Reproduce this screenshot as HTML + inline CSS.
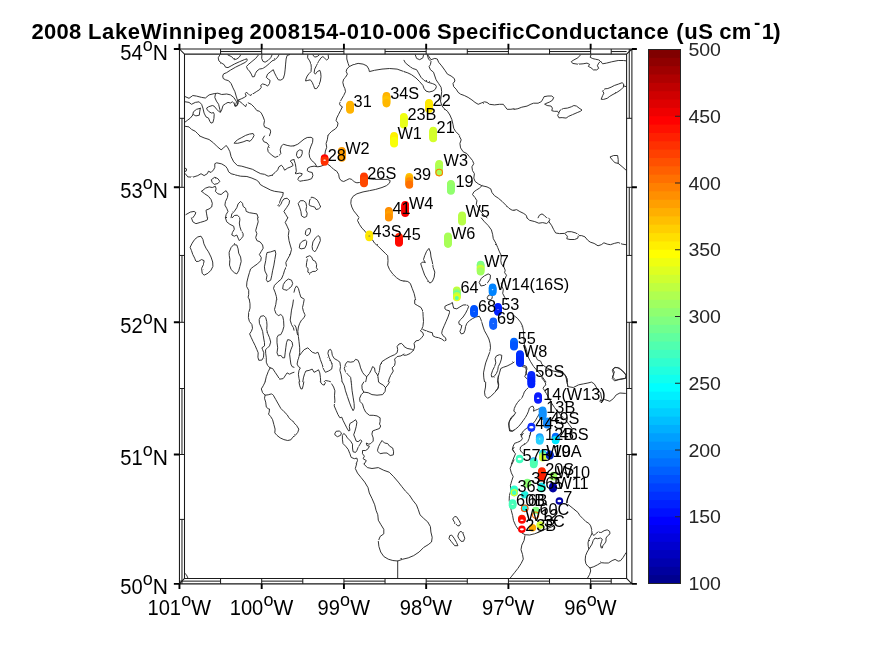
<!DOCTYPE html>
<html><head><meta charset="utf-8"><title>2008 LakeWinnipeg SpecificConductance</title>
<style>
html,body{margin:0;padding:0;background:#fff;}
svg{display:block;font-family:"Liberation Sans",Arial,Helvetica,sans-serif;}
.c{fill:none;stroke:#2a2a2a;stroke-width:0.95;stroke-linejoin:round;stroke-linecap:round;vector-effect:non-scaling-stroke}
</style></head><body>
<svg width="875" height="656" viewBox="0 0 875 656">
<rect width="875" height="656" fill="#fff"/>
<defs><filter id="rough" x="0" y="0" width="875" height="656" filterUnits="userSpaceOnUse"><feTurbulence type="fractalNoise" baseFrequency="0.35" numOctaves="2" seed="3" result="n"/><feDisplacementMap in="SourceGraphic" in2="n" scale="1.6" xChannelSelector="R" yChannelSelector="G"/></filter></defs>
<g id="coast" filter="url(#rough)">
<path class="c" d="M219.8 55.0 218.2 57.8 218.9 60.9 221.1 62.8 224.2 64.7 225.5 67.2 228.0 67.6 231.1 65.9 234.3 64.1 239.3 61.8 244.3 59.7 246.9 58.8 247.2 60.3 245.6 62.2 240.6 64.7 235.5 67.2 230.5 70.1 226.7 72.6 223.6 73.9 222.7 76.0 223.2 78.5 225.5 79.8 228.6 80.7 231.1 83.5 233.0 87.9 234.9 91.7 236.2 96.1 237.4 99.9 238.1 103.7 236.8 105.8 235.3 106.2 234.9 103.0
M185.3 96.7 189.0 98.3 192.8 95.5 196.6 96.1 201.6 97.4 205.4 98.0 209.1 94.9 214.2 93.6 217.9 93.2 221.7 94.5 226.7 94.0 230.5 94.9 233.7 97.4 236.2 101.1 237.4 104.3
M215.4 94.2 214.8 97.4 216.4 101.1 218.6 104.3 219.8 109.3 220.5 112.1 221.7 109.9 223.0 105.5 225.5 103.7 228.0 102.4 230.5 103.0 232.4 101.8 234.3 103.7 234.9 106.2 236.8 105.5 238.1 102.4 238.7 99.9
M238.7 99.9 241.8 98.6 244.3 97.4 246.2 96.1 245.3 93.6 246.2 92.3 248.1 93.6 250.0 95.5 252.5 94.2 256.3 91.7 259.4 89.8 261.3 87.3 260.7 85.4 262.6 83.9 265.7 84.8 267.6 86.1 269.5 83.5 270.1 80.4 268.2 79.1 266.3 77.3 267.6 74.1 270.7 71.6 273.3 69.7 274.5 72.9 276.4 76.6 278.3 79.8 280.8 80.1 283.3 78.5 284.6 74.1 285.2 69.1 285.6 64.1 286.1 59.0 287.1 55.5 289.6 54.6
M239.3 101.1 242.5 103.7 245.6 106.8 246.5 104.3 248.1 102.8 251.3 104.3 254.4 107.4 256.9 110.6 259.4 111.2 261.3 113.1 263.2 116.9 264.5 120.6 263.8 124.4 264.5 126.9 267.6 128.2 270.1 129.4 270.7 131.9 269.5 135.7
M228.0 55.0 231.8 56.8 234.3 59.7 236.8 59.0 239.3 57.1 240.6 55.0
M258.2 55.3 255.7 58.4 251.9 61.5 248.1 64.7 246.5 66.6 247.5 69.1 249.4 71.0 251.3 74.1 252.5 76.9 254.4 76.6 255.4 73.5 256.9 71.0 259.4 69.1 262.6 68.5 265.7 66.6 269.5 63.4 272.0 60.9 275.1 59.7 277.7 57.1 278.9 55.0
M261.9 55.0 261.7 58.4 262.9 61.3 265.1 62.2 268.2 60.3 270.7 57.8 272.0 55.0
M185.3 101.8 189.0 102.4 191.5 104.3 195.3 102.4 199.1 101.8 201.6 104.3 202.9 108.1 204.1 113.1 206.0 116.9 208.5 118.1 209.8 121.3 211.0 123.1 212.9 122.5 213.9 118.7 214.2 114.3 213.5 112.5 211.7 113.1 209.1 111.8 207.3 109.9 206.6 108.1 208.5 106.8 212.3 105.5 214.2 106.2 216.7 109.3 219.2 111.8 220.5 112.1
M200.3 108.3 196.6 109.3 193.4 111.8 192.8 115.0 190.3 118.1 187.8 120.0 185.3 121.9
M200.3 108.3 199.7 111.8 199.3 115.2 195.9 115.9 193.4 114.6 192.8 115.0
M185.3 126.3 189.0 126.9 191.5 129.4 195.3 131.3 197.8 133.8 199.7 135.7
M346.8 55.0 346.8 59.0 348.1 63.4 349.3 66.6 353.1 64.7 358.1 63.4 363.1 64.1 366.9 65.9 368.8 69.1 369.4 71.6 374.5 70.3 382.0 69.1 389.5 68.5 397.1 69.1 404.0 71.6
M349.3 66.6 346.8 69.1 346.2 71.6 347.4 74.1 345.5 77.3 343.7 79.1 342.8 82.3 343.7 86.1 344.9 88.6 345.5 91.7 343.7 95.5 341.1 99.9 339.5 103.7 340.3 105.5 342.4 106.8 340.5 110.6 338.6 114.3 336.7 118.1 336.1 120.6 338.0 123.1 337.4 126.3 335.5 128.8 331.7 131.3 329.2 133.8 327.9 135.7
M307.8 55.0 307.6 57.8 309.7 60.9 311.0 64.1 311.3 67.8 311.0 71.6 309.1 73.5 307.2 76.0 305.9 79.1 305.6 81.0 307.8 80.4 310.3 79.8 312.2 82.3 313.5 85.4 314.7 88.6 316.6 88.6 318.5 86.1 320.4 81.0 321.0 76.6 320.7 72.9 319.8 70.3 317.3 71.6 315.4 74.1 314.1 72.9 314.7 69.1 316.6 65.3 318.5 61.5 321.0 57.8 322.9 56.5 324.8 58.4 326.7 60.0 328.6 58.4 328.2 55.0
M312.9 55.0 314.7 57.1 317.3 56.5 319.1 55.0
M404.0 71.6 407.8 72.9 411.5 74.7 415.9 77.9 419.7 81.7 422.9 85.4 424.1 88.6 426.0 91.1 429.1 92.0 432.9 91.1 435.4 89.2 436.4 86.7 435.4 84.8 432.3 83.5 427.9 82.3 424.1 80.4 421.0 77.3 418.5 72.9 416.6 69.7 412.8 68.5 409.0 65.9 405.3 62.8 404.0 60.3
M427.3 55.0 428.5 59.0 431.0 61.5 430.4 64.7 429.1 66.6 430.4 69.7 433.5 72.2 434.8 76.0 436.1 79.8 438.6 83.5 441.1 87.3 441.7 91.7 441.1 96.7 440.5 101.1 441.7 105.5 444.2 108.7 447.4 111.2 449.9 115.0 451.8 119.4 453.0 124.4 453.7 128.2 455.5 131.3 459.3 135.1
M427.9 55.0 431.0 59.7 434.8 58.4 437.3 59.0 438.6 62.2 441.7 65.9 444.9 70.3 447.4 74.1 451.1 76.0 454.3 78.5 454.9 81.0 453.0 83.5 453.7 86.7 456.2 89.2 458.1 92.3 460.6 94.2 464.3 95.5 468.1 97.4 471.9 99.9 475.0 102.4 478.2 104.3 481.3 103.0 484.5 101.8 487.0 102.4 489.5 104.3 494.5 104.9 499.5 104.3 503.3 104.3 505.2 106.8 507.1 109.3 510.9 109.3 514.0 108.7
M415.3 55.0 416.6 58.4 419.7 59.7 422.9 57.8 423.5 55.0
M514.0 109.4 517.9 108.7 521.8 107.2 527.0 106.1 530.9 104.2 533.5 103.2 538.1 103.2 541.4 101.6 543.3 98.3 544.0 96.7 547.9 96.0 551.8 96.0 553.7 97.6 552.4 100.3 549.2 102.2 545.9 103.5 544.6 104.2 547.2 105.5 551.1 106.1 552.4 108.1 551.8 110.7 554.4 111.3 557.6 111.3 558.9 113.3 557.6 115.2 558.9 117.8 562.2 117.6 566.1 118.1 568.7 116.3 572.6 114.6 577.2 112.6 580.4 111.3 582.0 110.0 579.1 108.1 576.5 106.1 573.9 105.5 571.3 106.8 567.4 108.1 563.5 108.5 560.3 110.0 558.9 112.6
M580.4 55.0 577.8 57.9 573.9 59.9 571.3 61.6 572.6 63.4 577.8 64.2 583.1 63.8 587.0 63.1 589.6 64.4 588.3 66.4 590.9 67.7 593.5 69.9 596.7 69.9 598.7 68.3 597.4 65.7 598.7 63.1 600.6 61.2 598.7 59.9 595.4 59.2 592.8 58.6 590.2 57.3 590.9 55.0
M600.6 61.2 602.6 63.8 606.5 63.1 611.7 61.8 618.2 60.5 623.4 60.5 626.0 60.8
M601.3 98.9 602.6 95.7 603.9 93.1 602.6 91.1 604.5 88.9 607.8 88.5 611.1 87.2 614.3 85.5 618.2 84.2 622.1 82.7 623.7 84.0 623.4 87.2 620.8 89.8 616.9 92.4 613.0 94.4 609.8 96.3 607.2 98.3 603.9 99.3Z
M623.7 85.9 626.0 86.6
M234.3 142.9 237.4 139.8 241.8 137.5 245.6 135.4 249.4 134.1 253.1 133.5 254.1 135.4 252.5 138.5 250.0 141.3 246.9 140.4 243.1 141.9 238.1 143.2Z
M199.7 136.0 204.1 137.9 209.1 139.5 213.5 142.9 217.3 146.7 221.1 149.8 223.6 147.9 226.1 145.4 228.0 147.9 229.9 151.7 231.1 156.7 233.7 161.8 237.4 165.5 241.8 166.2 246.9 167.7 252.5 169.3 256.9 171.8 260.7 173.7 264.5 174.3 268.2 176.2 272.0 175.2 275.1 172.5 277.7 169.9 278.9 166.8 281.4 165.2 283.3 167.4 284.6 170.2 287.7 168.1 290.9 166.8 293.1 165.5 292.1 163.0 290.2 161.1 292.1 159.9 294.0 159.6
M185.3 173.7 187.8 176.9 192.8 177.2 197.8 175.6 201.0 173.7 204.1 175.6 207.3 173.7 208.5 171.2 211.0 172.5 213.5 169.9 214.8 167.4 214.8 163.7 216.7 162.8 221.7 163.9 225.5 166.2 227.4 168.7 228.6 171.8 231.1 173.7 235.5 175.0 240.6 176.2 246.9 176.5 251.9 178.1 256.3 180.0 258.8 181.9 260.1 184.4 263.2 186.3 267.0 188.2 270.7 190.1 274.5 191.3 278.9 191.9 283.3 192.6 282.7 195.7 280.8 198.9 279.5 202.6 277.7 205.1 278.9 206.4 280.8 204.5 282.1 201.4 283.9 198.9 287.1 198.2 289.6 200.7 289.0 203.9 286.5 207.7 283.9 211.4 285.8 214.6 287.7 217.7
M211.7 179.4 214.8 177.2 217.9 178.7 219.8 181.3 217.9 183.5 214.2 184.4 212.3 182.5Z
M201.6 191.3 205.4 188.2 209.1 186.9 212.3 187.5 215.4 186.3 216.1 188.8 215.4 191.3 217.9 193.8 221.1 194.5 224.2 191.9 226.1 190.7 228.0 193.8 227.4 197.6 225.5 201.4 224.9 205.1 226.7 208.3 228.0 211.4 226.1 214.6 225.5 217.7
M201.6 191.3 204.7 193.8 208.5 196.3 211.0 199.5 212.3 203.3 211.7 207.0 209.1 208.9 206.0 210.2 206.6 213.9 207.3 217.7
M231.1 217.7 231.8 213.9 234.3 211.4 236.8 207.7 238.1 203.9 240.6 201.4 242.5 203.3 243.1 206.4 245.6 208.3 246.2 211.4 249.4 212.7 253.1 213.3 256.9 213.9 258.2 217.7
M232.4 217.7 234.3 215.5 237.4 215.2 239.3 217.1
M185.9 214.6 190.3 212.1 194.1 211.4 195.9 212.7 194.7 215.2 192.8 217.7
M264.5 136.0 262.6 139.1 263.8 141.7 267.0 142.9 268.9 145.4 267.6 148.6 268.2 151.7 271.4 154.9 275.1 157.4 278.3 156.1 280.8 153.6 280.2 149.8 281.4 146.1 283.3 144.2 287.1 145.4 290.9 146.1 294.0 145.8
M185.0 168.1 186.5 168.9 186.3 170.9 185.0 171.5
M327.9 136.0 327.3 139.8 326.1 143.5 326.7 147.3 325.4 151.1 324.8 154.9 324.2 158.0 324.2 164.9 321.0 166.2 317.9 166.8 314.1 166.2 310.3 166.8 307.8 168.1 307.2 170.6 309.1 171.8 312.2 172.5 312.9 175.6 311.6 178.7 307.8 180.0 303.4 180.6 299.7 181.3 297.8 179.4 299.0 176.9 301.5 175.6 302.2 173.7 299.7 173.1 296.5 173.7 295.3 172.5
M327.9 164.3 331.1 166.8 333.6 169.3 336.7 171.2 338.6 174.3 339.3 178.1 341.1 180.6 343.7 181.5 346.8 180.0 349.3 178.7 351.8 179.4 354.3 181.9 356.9 182.8 359.4 182.5 364.4 180.6 368.2 178.7 374.5 179.4 382.0 179.4 387.7 179.4 390.2 180.6 389.5 183.1 386.4 185.7 382.0 187.5 375.7 189.4 369.4 190.7 363.1 191.9 356.9 193.8 353.1 196.3 351.2 199.5 350.8 203.3 351.8 207.0 353.7 210.8 356.2 213.9 358.7 217.1
M294.0 145.8 297.8 144.2 300.9 141.7 304.1 139.1 307.2 137.5 311.0 137.3 312.9 138.5 312.6 142.3 311.0 146.1 309.7 149.8 309.1 153.6 309.7 157.4 311.6 160.5 314.7 163.0 316.6 166.2
M294.0 159.9 295.3 163.7 295.9 167.4 296.3 171.2 295.5 173.7
M296.5 154.9 297.1 151.7 299.7 149.8 302.2 150.5 302.2 153.6 300.9 156.7 298.4 158.0Z
M298.4 203.3 300.3 200.7 303.4 200.7 305.9 202.6 306.6 206.4 305.9 210.2 307.2 213.3 306.6 216.5 304.1 217.5 301.5 215.8 300.9 211.4 299.7 207.7Z
M309.1 204.5 309.7 200.1 311.6 197.0 314.7 198.2 317.3 200.1 319.1 203.3 320.7 207.0 318.5 208.9 316.0 209.5 314.7 207.0 312.2 206.4 310.3 205.8Z
M459.3 136.0 461.2 139.8 459.9 143.5 460.6 147.9 463.1 151.7 466.9 153.6 469.4 156.7 472.5 160.5 473.8 163.7 471.9 166.8 472.5 170.6 474.4 173.7 473.8 178.1 475.0 181.3 478.2 183.8 481.9 185.7 487.0 186.9 490.7 188.8 492.0 192.6 494.5 195.7 498.3 198.2 502.1 201.4 505.8 205.1 509.0 208.3 512.1 210.2 514.0 210.2
M481.9 185.7 479.4 188.2 476.3 190.1 473.8 191.9 472.5 194.5 475.0 197.6 476.9 200.7 476.3 204.5 478.2 207.7 480.7 211.4 484.5 215.8 487.0 217.7
M514.0 210.3 516.6 209.6 519.9 211.6 523.8 213.5 526.4 215.5 527.0 217.8
M538.1 217.8 539.4 215.2 542.0 213.9 544.6 215.7 546.6 217.8
M610.4 156.8 613.7 155.5 617.6 155.5 618.2 159.5 618.2 163.4 615.0 162.7 612.4 160.1Z
M618.2 163.4 622.1 166.6 626.0 170.1
M207.6 218.0 207.3 219.9 204.7 221.1 200.3 222.4 195.9 223.7 192.8 221.8 191.5 218.0
M190.3 246.9 192.2 243.1 194.7 239.4 197.8 236.9 201.0 236.2 202.9 239.4 203.9 243.8 206.0 248.2 208.5 251.9 211.0 257.0 212.7 262.0 212.9 266.4 211.0 270.2 207.9 273.3 204.1 275.2 202.2 273.3 201.6 268.3 203.5 264.5 204.1 260.7 201.6 259.5 198.5 261.4 195.9 261.4 194.7 258.2 192.8 254.5 191.5 250.7Z
M225.5 218.0 226.7 221.8 229.9 224.3 233.7 226.2 234.3 229.3 232.4 232.5 231.8 235.0 234.3 236.2 236.8 235.0 238.1 238.1 239.3 240.6 241.2 238.7 243.1 236.2 243.1 233.7 241.2 230.6 239.9 226.8 239.3 223.0 239.9 219.9 239.6 218.0
M229.3 251.9 231.1 247.5 233.7 244.7 236.8 245.0 238.1 248.8 238.7 253.2 240.6 257.0 241.2 261.4 239.9 266.4 238.7 270.8 236.8 273.9 234.3 272.7 231.1 269.5 229.5 265.1 229.9 259.5 229.3 255.7Z
M257.5 218.0 258.2 221.8 256.9 226.2 255.7 230.6 256.9 233.7 255.7 237.5 256.9 240.6 260.1 241.9 262.6 245.0 263.2 248.2 261.3 251.3 259.4 254.5 261.3 257.6 260.7 260.7 257.5 263.9 253.8 266.4 250.6 268.9 249.4 272.7 248.1 277.1 246.9 282.1 246.6 286.5 248.7 290.3 248.7 294.7 248.1 297.2 249.4 299.7
M264.5 266.4 265.7 260.7 266.3 255.7 267.0 252.6 270.7 251.9 275.1 250.4 275.8 253.8 274.8 259.5 273.9 265.1 272.6 270.8 271.7 275.8 270.7 280.2 267.6 281.9 266.3 279.6 267.0 275.2 265.1 271.4Z
M287.7 218.0 285.2 222.4 287.1 226.2 289.0 230.6 288.3 235.6 289.0 240.6 290.2 245.0 291.5 249.4 290.2 254.5 287.7 258.9 285.8 262.6 286.5 266.4 284.6 270.2 283.3 274.6 281.4 279.0 277.7 282.1 274.5 285.3 273.5 288.4 275.1 292.2 276.4 296.6 276.8 299.7
M282.7 288.4 283.3 284.6 285.2 281.5 288.3 279.0 291.5 280.2 292.7 283.4 291.5 286.5 289.0 288.4 287.1 290.3 284.6 289.7Z
M358.7 218.0 357.5 220.5 359.4 224.3 361.9 228.1 365.0 231.2 366.9 233.7 369.4 236.9 372.6 240.0 374.5 243.1 378.2 246.3 382.0 250.1 385.8 253.8 387.7 255.7 388.0 260.7 387.7 265.1 389.5 269.5 392.7 273.9 396.5 277.7 400.2 280.2 404.0 281.2
M305.3 233.7 305.9 230.6 307.8 228.7 310.3 228.7 310.6 231.2 309.3 234.3 307.2 235.6Z
M299.3 247.5 300.0 243.8 302.2 241.3 305.3 240.0 306.8 241.3 306.3 245.0 304.7 248.2 301.5 248.8Z
M312.2 246.3 312.9 241.9 315.4 238.1 317.9 235.6 319.8 236.9 320.4 240.6 318.5 245.0 316.6 249.4 314.7 251.9 312.9 250.1Z
M306.6 257.0 309.7 255.7 311.6 257.0 312.9 260.1 315.4 261.4 316.6 264.5 316.4 267.7 317.6 269.5 315.4 271.4 312.9 271.4 309.7 273.3 307.8 272.1 308.1 268.9 306.3 266.4 306.6 262.6 307.2 260.1Z
M294.0 292.2 295.0 288.4 296.5 285.9 298.4 288.4 299.7 293.4 300.9 297.2 304.1 299.1
M481.3 218.0 484.5 221.8 488.2 225.5 491.4 229.9 492.6 234.3 493.3 238.7 495.8 243.1 497.7 247.5 499.5 251.9 501.4 255.7 500.8 260.7 501.4 263.9 503.9 267.0 505.2 270.2 504.6 272.7 506.5 275.2 505.2 278.3 503.3 280.9 501.4 283.4 502.1 286.5 503.3 289.7 502.7 293.4 504.6 297.2 506.5 299.7
M404.0 280.9 407.8 281.5 410.3 283.4 412.2 288.4 414.1 293.4 415.3 298.5 415.6 299.7
M421.0 263.3 422.9 262.0 425.4 262.6 423.5 259.5 424.7 255.7 426.6 251.3 428.9 248.4 430.4 251.9 431.0 257.0 432.3 262.0 433.2 267.7 434.8 272.1 434.2 277.1 432.3 281.5 429.8 283.1 427.3 279.6 424.7 275.2 422.9 270.2 421.6 266.4Z
M479.4 282.1 481.3 278.3 484.5 275.8 488.2 273.9 490.5 275.2 490.1 279.0 487.6 282.7 484.5 285.3 481.3 285.9Z
M527.0 218.0 529.6 220.3 534.8 221.6 538.8 223.2 542.7 222.6 546.6 223.5 548.9 221.6 551.8 225.8 553.7 229.7 555.7 233.0 559.6 233.6 564.8 233.4 567.4 231.7 571.3 231.7 575.9 233.0 578.5 234.9 577.8 238.2 574.6 239.5 570.0 239.5 566.8 238.8 567.4 236.2 565.5 234.3
M578.5 235.6 581.7 235.6 585.0 236.9 587.6 240.1 590.2 242.1 594.1 243.4 598.0 245.8 601.3 244.7 603.9 242.8 607.2 244.1 610.4 244.7 614.3 243.4 618.2 242.5 622.1 244.1 626.0 244.7
M548.9 221.6 549.8 219.3 548.5 218.0
M249.4 300.0 250.0 303.8 250.0 308.2 248.7 312.6 248.4 317.6 249.4 321.4 251.9 324.5 252.5 328.3 251.3 331.4 249.6 333.9 251.3 337.7 253.1 341.5 255.0 345.3 256.9 349.7 258.2 352.8 257.9 357.2 258.8 360.3 261.9 360.1 263.5 357.2 263.8 352.8 262.6 349.7 261.9 347.8 264.5 345.9 264.5 342.7 263.8 339.0 263.2 335.2 262.6 331.4 261.3 327.7 259.4 323.3 259.2 319.5 260.7 316.3 263.8 315.7 265.7 317.6 266.7 321.4 267.0 325.1 266.7 329.5 267.6 333.3 269.5 337.7 270.7 342.1 269.5 345.9 267.0 348.4 265.5 349.7 265.7 353.4 266.3 357.8 266.3 362.2 267.6 365.4 270.1 367.9
M270.1 367.9 268.2 371.7 266.3 376.7 265.1 381.7
M270.1 367.9 272.6 368.5 275.1 372.3 277.7 376.1 279.5 379.2 283.3 378.6 285.8 374.8 287.1 372.9 289.6 374.2 292.1 372.9 294.0 372.3
M276.4 300.0 275.8 304.4 274.5 309.4 275.8 313.2 278.3 315.7 280.8 314.5 282.7 316.3 283.6 320.7 283.9 326.4 282.7 330.8 280.8 334.6 278.3 335.2 277.0 337.7 277.0 342.7 277.7 347.8 277.0 352.8 278.3 355.9 280.8 355.3 282.7 357.8 284.6 357.8 285.2 352.8 285.8 347.8 286.5 342.7 287.7 339.6 290.2 340.2 292.1 342.1 292.7 345.3 290.9 349.7 289.6 354.1 290.2 359.1 290.9 364.1 292.1 366.6 294.0 367.3
M293.4 300.0 292.7 305.0 291.5 310.1 290.9 315.1 290.2 320.1 291.5 324.5 293.4 327.7 294.0 330.2
M304.1 300.0 303.4 303.8 302.5 307.5 303.4 311.3 305.1 315.1 304.1 317.6 301.5 320.1 299.7 323.3 298.4 327.0 297.8 331.4 298.4 336.5 299.0 341.5 299.7 347.8 299.7 352.8 299.0 356.6 297.8 360.3 297.1 364.1 298.4 366.6 300.3 367.9 299.0 370.4 298.4 374.2 299.0 378.6 299.7 381.7
M294.6 325.1 295.9 327.0 296.8 331.4 297.5 334.6
M299.7 355.3 301.5 352.8 304.1 349.7 307.8 347.8 309.7 349.7 312.2 352.2 315.4 353.4 317.9 352.2 319.1 355.3 320.4 359.7 322.3 364.7 323.5 369.1 325.4 372.3 328.6 371.0 331.7 369.1 332.3 365.4 331.1 361.6 329.2 357.8 327.9 353.4 328.6 350.3 330.5 349.3 331.7 351.5 332.3 355.3 334.2 358.5 337.4 360.3 339.9 362.2 340.5 366.6 339.9 370.4 341.1 374.8 341.8 379.2 342.0 381.7
M302.8 381.7 303.4 377.9 304.7 373.5 305.9 371.0 309.1 370.4 312.2 369.1 314.1 372.3 316.6 371.0 318.5 369.8 319.8 372.9 320.4 377.3 320.7 381.7
M324.2 381.7 325.4 380.5 328.6 381.1 330.5 381.7
M351.2 381.7 350.6 377.3 348.1 374.8 345.5 371.7 344.3 368.5 345.5 364.1 347.4 361.6 350.6 362.2 353.7 361.6 355.6 359.3 358.1 360.3 359.6 364.1 360.6 367.9 362.5 372.3 364.4 374.8 366.7 376.7 369.4 373.5 371.3 369.8 372.6 366.6 374.5 367.9 375.1 371.7 377.0 374.2 378.0 376.7 378.5 381.7
M366.7 376.7 366.3 379.2 365.7 381.7
M378.0 375.4 379.5 370.4 380.1 365.4 382.0 361.6 385.8 359.1 390.2 356.6 394.6 354.7 397.1 352.8 397.7 349.7 397.1 346.5 399.0 344.0 401.5 343.4 404.0 345.9
M404.0 354.1 400.9 355.9 397.1 356.6 394.6 359.1 395.2 362.2 394.6 365.4 392.1 367.9 393.3 371.0 391.4 374.2 389.5 377.9 388.3 381.7
M414.7 300.0 414.7 303.8 417.8 305.7 421.0 307.5 422.9 311.3 423.1 316.3 423.5 321.4 422.9 326.4 421.6 329.5 420.3 330.8 422.9 332.7 423.5 335.2 421.6 337.7 419.1 340.2 415.9 340.9 414.1 343.4 414.7 347.1 413.4 350.3 410.3 353.4 406.5 355.1 404.0 355.3
M404.0 346.5 407.1 348.4 411.5 349.3 413.4 350.3
M422.9 329.5 426.0 330.8 429.8 332.1 432.3 332.7 432.9 335.8 435.4 337.1 438.6 337.7 441.7 339.0 444.2 340.9 446.1 340.2 445.5 337.7 443.0 335.8 441.7 333.3 442.3 330.2 444.2 325.8 446.1 321.4 448.0 317.0 449.5 312.6 449.3 310.7 446.7 310.1 444.9 308.8 444.9 306.3 447.4 305.0 450.5 303.8 452.4 302.5 453.0 305.7 453.7 308.2 456.8 308.8 459.9 306.9 463.1 305.0 466.9 304.8 468.7 306.3 467.5 309.4 465.6 313.2 463.1 317.0 460.6 319.5 458.7 322.0 459.3 324.5 461.8 325.1 461.2 328.3 459.9 331.4 461.2 333.9 463.7 333.3 465.0 330.2 465.6 326.4 466.9 323.3 469.4 320.7 472.5 318.6 475.7 317.0 479.4 316.3 480.7 318.9 481.9 322.6 483.2 327.0 484.5 330.8 487.0 335.2 488.9 339.0 490.1 343.4 490.5 347.8 489.5 352.8 487.6 357.8 485.7 362.9 484.5 367.9 483.5 372.9 483.8 377.9 484.5 381.7
M491.4 374.2 492.6 370.4 494.5 366.6 495.8 362.9 495.1 358.5 496.4 355.9 499.5 354.7 501.8 355.3 501.4 359.1 500.2 362.9 498.3 366.6 497.7 370.4 496.4 373.5 493.9 376.7 492.0 376.9Z
M514.0 362.2 510.9 364.1 507.1 366.0 503.3 367.3 500.8 368.5 499.5 372.9 498.3 377.3 497.7 381.7
M514.0 315.6 517.3 318.2 520.5 322.1 522.5 326.1 523.4 330.6 523.8 337.8 524.4 344.3 526.4 349.5 527.7 356.0 530.3 361.2 533.5 366.4 537.5 371.0 541.4 375.6 544.6 380.1 545.9 381.9
M535.5 356.0 537.5 359.9 540.7 361.2 542.0 364.5 546.6 367.7 553.1 371.0 559.6 372.3 564.8 374.3 566.8 378.2 567.4 381.9
M523.1 365.1 526.4 366.4 527.0 369.1 525.7 372.3 527.0 374.9
M612.4 378.2 613.7 374.3 612.4 370.4 614.3 367.7 617.6 367.5 620.8 369.7 624.1 372.3 626.0 374.9 625.8 378.2 622.1 378.8 618.2 379.5 615.0 380.8Z
M265.1 382.0 263.2 385.8 261.3 388.9 262.6 392.7 265.1 395.2 268.2 394.8 271.4 393.9 273.3 395.2 275.8 399.6 278.3 404.0 280.8 408.4 283.9 411.5 287.1 414.7 289.0 417.8 291.5 420.3 294.0 422.2
M265.1 395.2 264.5 398.3 265.7 402.1 266.3 407.1 268.2 408.7 269.5 409.0 269.2 412.2 268.5 414.1 270.7 416.6 272.6 419.7 273.9 424.7 275.1 429.1 274.8 432.9 277.0 435.4 280.2 437.9 283.9 439.6 287.7 440.5 290.9 439.8 292.7 437.3 294.0 436.1
M299.0 382.0 299.7 385.8 300.9 388.9 302.2 388.9 303.1 385.8 303.8 382.0
M320.4 382.0 322.3 384.5 324.2 385.1 325.4 382.6
M331.7 383.9 333.6 387.0 334.9 390.8 334.5 395.8 334.9 400.9 334.2 405.9 336.1 410.3 338.0 414.7 339.9 417.8 341.8 417.2 343.0 420.3 344.9 424.1 346.8 427.9 348.7 431.0 349.9 430.4 349.3 426.6 349.9 423.5 353.1 421.6 355.6 419.7 356.9 422.2 356.2 426.6 355.0 431.0 353.7 434.8 355.0 437.9 356.2 441.1 358.1 441.7 360.6 439.8 361.9 441.1 360.0 444.2 358.1 447.4 356.9 450.5 355.6 452.4 353.1 451.8 352.5 448.0 352.5 444.2 350.6 441.1 347.4 437.9 345.5 434.8 343.7 433.5 342.4 435.4 342.4 439.2 343.0 443.6 345.5 446.1 348.1 449.3 349.9 453.7 351.2 457.4 354.3 458.7 356.9 458.1 357.5 460.6 356.2 463.7
M342.4 382.0 344.3 385.8 345.5 390.8 347.4 396.5 349.3 402.1 351.2 407.1 353.1 410.7 354.3 408.4 354.1 403.4 353.1 397.1 352.1 390.8 351.6 385.8 351.2 382.0
M363.8 382.0 361.9 385.1 362.1 388.9 363.8 392.1 361.3 394.6 359.6 398.3 360.0 401.5 362.5 404.0 363.8 408.4 365.7 412.2 369.4 415.3 373.2 415.3 377.0 415.9 380.1 417.8 380.1 421.6 379.5 424.1 380.7 426.0 379.5 428.5 375.7 429.8 372.6 431.0 371.9 434.2 373.2 437.9 373.2 441.1 370.7 443.6 368.8 444.2 366.3 443.0 366.9 445.5 369.4 446.1 368.2 448.6 365.7 450.5 362.5 450.5 362.5 453.7 364.4 456.2 363.1 458.7 366.3 460.6 364.4 463.7
M363.8 392.1 368.2 392.7 371.9 394.6 377.0 395.2 382.6 394.6 385.1 391.4 385.5 387.7 383.3 385.1 379.5 383.0 378.9 382.0
M385.5 387.7 387.7 385.1 389.5 382.0
M334.9 433.5 336.1 431.3 339.3 431.0 341.5 432.9 340.5 435.4 337.4 436.7 335.5 435.4Z
M377.6 449.9 378.5 446.7 380.1 443.6 382.0 440.5 384.5 443.0 387.7 443.6 389.5 446.1 392.7 448.0 393.6 451.8 393.3 454.9 390.2 455.5 387.0 453.0 383.9 453.0 380.1 453.7 378.2 451.8Z
M294.0 422.9 296.5 425.4 298.8 429.1 297.8 432.3 295.3 435.4 294.0 436.3
M485.7 382.0 485.5 387.0 484.5 392.1 485.1 395.8 487.6 398.3 490.7 396.5 494.5 392.7 497.7 388.9 498.5 385.8 497.7 382.0
M514.0 414.9 510.9 417.8 509.0 422.2 509.0 427.3 509.6 431.0 512.1 431.3 514.0 430.4
M514.0 447.4 512.7 449.3 514.0 451.8
M514.0 459.9 512.1 463.7
M356.6 464.0 355.3 468.5 357.5 473.1 361.1 477.6 364.7 482.1 368.0 487.6 369.3 493.0 372.0 498.5 374.7 504.8 376.0 510.2 377.8 514.8 378.3 520.2 381.0 524.8 383.8 529.3 383.8 533.8 380.1 536.5 378.3 541.1 378.9 546.5 380.7 552.0 383.8 556.5 388.3 559.2 392.8 560.5 397.7 561.0 402.8 559.2 408.2 557.9 413.7 555.6 419.1 552.0 423.7 547.4 428.2 544.7 431.5 542.0 432.2 537.4 430.9 532.0 430.4 526.6 427.8 522.0 423.7 518.4 420.0 514.8 418.2 509.3 416.4 504.8 412.8 500.3 409.2 494.8 405.5 491.2 401.9 486.7 398.3 482.1 393.7 476.7 389.2 472.2 383.8 470.3 378.3 467.6 372.0 468.5 367.4 467.6 363.8 464.0
M397.7 561.0 397.7 578.2
M452.9 518.7 454.7 516.5 456.6 516.8 459.1 520.6 460.7 523.7 459.1 525.9 457.3 525.6 454.7 522.5Z
M457.9 535.7 459.1 532.5 461.0 531.3 462.9 533.1 464.8 538.2 463.5 541.3 461.0 541.3 459.1 538.8Z
M449.1 538.2 449.7 535.7 451.6 535.0 454.1 538.2 456.6 542.6 457.9 545.7 454.7 545.7 451.6 541.9Z
M511.9 464.0 510.1 468.4 511.3 472.8 513.2 476.6 511.9 480.3 510.4 485.4 510.9 490.4 509.4 495.4 509.2 500.5 510.1 505.5 511.3 510.5 512.6 515.5 513.5 520.6 515.7 525.6 518.2 529.4 522.0 533.1 525.1 534.7 529.5 535.0 534.6 533.8 539.6 531.9 544.0 530.0
M524.9 535.7 524.1 540.4 521.8 545.1 521.0 549.7 522.5 554.4 523.3 559.1 521.0 563.7 517.9 568.4 514.8 572.3 511.7 576.2 510.1 578.2
M568.4 504.7 573.1 508.5 574.9 509.9
M537.3 532.6 542.0 530.3 546.6 528.8 552.8 526.4
M522.1 366.5 525.7 367.4 526.6 372.0 524.8 376.6 527.5 379.3
M556.8 371.1 563.2 372.9 565.9 376.6 566.9 382.1 567.8 386.6 573.3 387.5 578.7 384.8 583.3 383.9 587.9 383.0 591.5 382.1 594.3 383.9 597.0 388.5 600.7 393.0 601.6 398.5 599.8 401.3 604.3 399.4 609.8 401.3 613.5 398.5 616.2 394.9 619.9 393.0 625.4 393.4
M612.6 376.6 614.4 372.0 612.6 369.3 615.3 367.4 619.9 368.3 623.5 372.0 626.3 375.7 625.4 378.4 620.8 379.3 616.2 380.2Z
M528.0 387.9 526.2 389.7 524.3 392.0 523.4 394.7 522.1 397.5 519.8 399.8 517.5 402.5 515.7 405.3 514.3 408.5 513.8 411.2 515.7 412.6 514.3 414.9 512.0 417.6 509.7 420.8 508.6 424.0 509.3 427.7 510.2 430.4 512.5 430.9 515.7 429.0 518.4 426.7 520.7 424.0 523.0 420.8 525.3 417.6 527.1 414.4 528.5 411.2 529.4 408.0 531.2 406.6 533.0 406.2 533.9 408.5 533.5 411.2 535.3 410.3 537.6 409.4 539.4 408.5
M539.0 414.4 537.1 417.6 535.3 420.8 533.0 423.5 530.7 425.8 526.2 428.6 523.4 430.9 521.6 433.6 521.1 436.0
M530.7 432.7 529.8 436.0
M541.7 377.8 543.5 380.1 545.4 382.9 545.8 385.1 544.0 386.5 543.1 388.3 544.5 390.6 546.3 393.4 548.1 396.6 549.9 399.8 551.8 403.4 554.5 407.5 557.3 411.2 560.0 414.4 563.2 417.6 566.4 420.8 569.1 424.5 571.9 428.1
M565.5 376.0 566.9 378.7 567.3 382.4 567.8 386.1
M498.3 376.0 497.8 379.7 498.7 384.2 498.3 387.9 496.0 390.6
M487.4 297.3 488.6 295.2 490.9 295.0 492.3 296.4 492.0 298.7 490.1 299.8 488.0 299.3Z
M523.3 433.3 521.4 436.0 522.4 438.8 520.5 441.0 517.3 442.4 514.6 443.3 513.2 446.1 512.3 449.3 513.7 451.6 515.5 453.8 513.7 458.0 512.3 461.6 511.4 464.0
M530.6 432.4 529.7 435.1 529.2 438.3 527.8 441.5 525.6 443.8 522.8 445.2 520.5 447.0 520.1 449.7 521.4 452.0 523.3 453.4
M574.9 510.0 577.9 512.4 579.8 515.5 582.8 518.5 585.9 521.6 588.9 523.4 590.7 525.9 591.7 529.5 592.0 533.2 590.7 536.2 588.9 539.3 588.0 542.9 588.3 546.6 588.9 549.0 587.1 552.1 585.6 555.7 585.2 560.0 585.9 563.7 587.7 566.1 590.1 567.9 590.7 571.0 589.5 574.6 587.7 577.8
M592.0 533.2 593.8 535.6 595.6 533.8 598.0 532.0 601.1 532.6 604.1 530.7 607.2 529.8 609.6 531.3 610.0 533.8 607.8 535.6 606.0 538.0 606.0 541.1 604.8 543.5 602.9 545.4 602.3 548.0 601.1 547.8 600.5 544.8 601.5 541.7 602.3 539.3 600.5 538.0 597.4 538.7 595.0 538.0 593.2 540.5 592.0 544.1 590.1 547.2 588.9 549.0
M590.1 567.9 593.8 566.7 597.4 564.9 601.1 562.7 604.8 563.0 608.4 563.0 612.1 560.6 615.1 559.4 618.2 561.2 620.6 560.6 623.0 557.6 624.9 554.5 626.1 552.7
M184.6 573.2 186.3 574.6 188.0 578.2"/>
</g>
<g id="frame">
<rect x="648.5" y="574.16" width="32.0" height="9.34" fill="#00008f"/>
<rect x="648.5" y="565.81" width="32.0" height="9.34" fill="#00009f"/>
<rect x="648.5" y="557.47" width="32.0" height="9.34" fill="#0000af"/>
<rect x="648.5" y="549.12" width="32.0" height="9.34" fill="#0000bf"/>
<rect x="648.5" y="540.78" width="32.0" height="9.34" fill="#0000cf"/>
<rect x="648.5" y="532.44" width="32.0" height="9.34" fill="#0000df"/>
<rect x="648.5" y="524.09" width="32.0" height="9.34" fill="#0000ef"/>
<rect x="648.5" y="515.75" width="32.0" height="9.34" fill="#0000ff"/>
<rect x="648.5" y="507.41" width="32.0" height="9.34" fill="#0010ff"/>
<rect x="648.5" y="499.06" width="32.0" height="9.34" fill="#0020ff"/>
<rect x="648.5" y="490.72" width="32.0" height="9.34" fill="#0030ff"/>
<rect x="648.5" y="482.38" width="32.0" height="9.34" fill="#0040ff"/>
<rect x="648.5" y="474.03" width="32.0" height="9.34" fill="#0050ff"/>
<rect x="648.5" y="465.69" width="32.0" height="9.34" fill="#0060ff"/>
<rect x="648.5" y="457.34" width="32.0" height="9.34" fill="#0070ff"/>
<rect x="648.5" y="449.00" width="32.0" height="9.34" fill="#0080ff"/>
<rect x="648.5" y="440.66" width="32.0" height="9.34" fill="#008fff"/>
<rect x="648.5" y="432.31" width="32.0" height="9.34" fill="#009fff"/>
<rect x="648.5" y="423.97" width="32.0" height="9.34" fill="#00afff"/>
<rect x="648.5" y="415.62" width="32.0" height="9.34" fill="#00bfff"/>
<rect x="648.5" y="407.28" width="32.0" height="9.34" fill="#00cfff"/>
<rect x="648.5" y="398.94" width="32.0" height="9.34" fill="#00dfff"/>
<rect x="648.5" y="390.59" width="32.0" height="9.34" fill="#00efff"/>
<rect x="648.5" y="382.25" width="32.0" height="9.34" fill="#00ffff"/>
<rect x="648.5" y="373.91" width="32.0" height="9.34" fill="#10ffef"/>
<rect x="648.5" y="365.56" width="32.0" height="9.34" fill="#20ffdf"/>
<rect x="648.5" y="357.22" width="32.0" height="9.34" fill="#30ffcf"/>
<rect x="648.5" y="348.88" width="32.0" height="9.34" fill="#40ffbf"/>
<rect x="648.5" y="340.53" width="32.0" height="9.34" fill="#50ffaf"/>
<rect x="648.5" y="332.19" width="32.0" height="9.34" fill="#60ff9f"/>
<rect x="648.5" y="323.84" width="32.0" height="9.34" fill="#70ff8f"/>
<rect x="648.5" y="315.50" width="32.0" height="9.34" fill="#80ff80"/>
<rect x="648.5" y="307.16" width="32.0" height="9.34" fill="#8fff70"/>
<rect x="648.5" y="298.81" width="32.0" height="9.34" fill="#9fff60"/>
<rect x="648.5" y="290.47" width="32.0" height="9.34" fill="#afff50"/>
<rect x="648.5" y="282.12" width="32.0" height="9.34" fill="#bfff40"/>
<rect x="648.5" y="273.78" width="32.0" height="9.34" fill="#cfff30"/>
<rect x="648.5" y="265.44" width="32.0" height="9.34" fill="#dfff20"/>
<rect x="648.5" y="257.09" width="32.0" height="9.34" fill="#efff10"/>
<rect x="648.5" y="248.75" width="32.0" height="9.34" fill="#ffff00"/>
<rect x="648.5" y="240.41" width="32.0" height="9.34" fill="#ffef00"/>
<rect x="648.5" y="232.06" width="32.0" height="9.34" fill="#ffdf00"/>
<rect x="648.5" y="223.72" width="32.0" height="9.34" fill="#ffcf00"/>
<rect x="648.5" y="215.38" width="32.0" height="9.34" fill="#ffbf00"/>
<rect x="648.5" y="207.03" width="32.0" height="9.34" fill="#ffaf00"/>
<rect x="648.5" y="198.69" width="32.0" height="9.34" fill="#ff9f00"/>
<rect x="648.5" y="190.34" width="32.0" height="9.34" fill="#ff8f00"/>
<rect x="648.5" y="182.00" width="32.0" height="9.34" fill="#ff8000"/>
<rect x="648.5" y="173.66" width="32.0" height="9.34" fill="#ff7000"/>
<rect x="648.5" y="165.31" width="32.0" height="9.34" fill="#ff6000"/>
<rect x="648.5" y="156.97" width="32.0" height="9.34" fill="#ff5000"/>
<rect x="648.5" y="148.62" width="32.0" height="9.34" fill="#ff4000"/>
<rect x="648.5" y="140.28" width="32.0" height="9.34" fill="#ff3000"/>
<rect x="648.5" y="131.94" width="32.0" height="9.34" fill="#ff2000"/>
<rect x="648.5" y="123.59" width="32.0" height="9.34" fill="#ff1000"/>
<rect x="648.5" y="115.25" width="32.0" height="9.34" fill="#ff0000"/>
<rect x="648.5" y="106.91" width="32.0" height="9.34" fill="#ef0000"/>
<rect x="648.5" y="98.56" width="32.0" height="9.34" fill="#df0000"/>
<rect x="648.5" y="90.22" width="32.0" height="9.34" fill="#cf0000"/>
<rect x="648.5" y="81.88" width="32.0" height="9.34" fill="#bf0000"/>
<rect x="648.5" y="73.53" width="32.0" height="9.34" fill="#af0000"/>
<rect x="648.5" y="65.19" width="32.0" height="9.34" fill="#9f0000"/>
<rect x="648.5" y="56.84" width="32.0" height="9.34" fill="#8f0000"/>
<rect x="648.5" y="49.50" width="32.0" height="8.34" fill="#800000"/>
<rect x="648.5" y="49.5" width="32.0" height="534.0" fill="none" stroke="#262626" stroke-width="1"/>
<text x="688.4" y="590.10" font-size="18.8" textLength="32.6" lengthAdjust="spacingAndGlyphs" fill="#262626">100</text>
<line x1="675.0" y1="516.75" x2="680.5" y2="516.75" stroke="#262626" stroke-width="1"/>
<text x="688.4" y="523.35" font-size="18.8" textLength="32.6" lengthAdjust="spacingAndGlyphs" fill="#262626">150</text>
<line x1="675.0" y1="450.00" x2="680.5" y2="450.00" stroke="#262626" stroke-width="1"/>
<text x="688.4" y="456.60" font-size="18.8" textLength="32.6" lengthAdjust="spacingAndGlyphs" fill="#262626">200</text>
<line x1="675.0" y1="383.25" x2="680.5" y2="383.25" stroke="#262626" stroke-width="1"/>
<text x="688.4" y="389.85" font-size="18.8" textLength="32.6" lengthAdjust="spacingAndGlyphs" fill="#262626">250</text>
<line x1="675.0" y1="316.50" x2="680.5" y2="316.50" stroke="#262626" stroke-width="1"/>
<text x="688.4" y="323.10" font-size="18.8" textLength="32.6" lengthAdjust="spacingAndGlyphs" fill="#262626">300</text>
<line x1="675.0" y1="249.75" x2="680.5" y2="249.75" stroke="#262626" stroke-width="1"/>
<text x="688.4" y="256.35" font-size="18.8" textLength="32.6" lengthAdjust="spacingAndGlyphs" fill="#262626">350</text>
<line x1="675.0" y1="183.00" x2="680.5" y2="183.00" stroke="#262626" stroke-width="1"/>
<text x="688.4" y="189.60" font-size="18.8" textLength="32.6" lengthAdjust="spacingAndGlyphs" fill="#262626">400</text>
<line x1="675.0" y1="116.25" x2="680.5" y2="116.25" stroke="#262626" stroke-width="1"/>
<text x="688.4" y="122.85" font-size="18.8" textLength="32.6" lengthAdjust="spacingAndGlyphs" fill="#262626">450</text>
<text x="688.4" y="56.10" font-size="18.8" textLength="32.6" lengthAdjust="spacingAndGlyphs" fill="#262626">500</text>
<path d="M179.45 49.0V583.85M184.5 54.1V578.4M631.9 49.0V583.85M626.6 54.1V578.4M179.45 49.0H631.9M184.5 54.1H626.6M179.45 583.85H631.9M184.5 578.4H626.6M179.45 49.0L184.5 54.1M631.9 49.0L626.6 54.1M179.45 583.85L184.5 578.4M631.9 583.85L626.6 578.4" fill="none" stroke="#1a1a1a" stroke-width="1.05"/>
<path d="M181.975 118.3V187.3M179.45 118.3H184.5M179.45 187.3H184.5M181.975 255.45V322.3M179.45 255.45H184.5M179.45 322.3H184.5M181.975 388.5V454.5M179.45 388.5H184.5M179.45 454.5H184.5M181.975 519.4V583.85M179.45 519.4H184.5M629.25 49.0V118.3M626.6 118.3H631.9M629.25 187.3V255.45M626.6 187.3H631.9M626.6 255.45H631.9M629.25 322.3V388.5M626.6 322.3H631.9M626.6 388.5H631.9M629.25 454.5V519.4M626.6 454.5H631.9M626.6 519.4H631.9M179.45 581.125H220.57M220.57 51.55H261.69M220.57 49.0V54.1M220.57 578.4V583.85M261.69 581.125H302.81M261.69 49.0V54.1M261.69 578.4V583.85M302.81 51.55H343.93M302.81 49.0V54.1M302.81 578.4V583.85M343.93 581.125H385.05M343.93 49.0V54.1M343.93 578.4V583.85M385.05 51.55H426.17M385.05 49.0V54.1M385.05 578.4V583.85M426.17 581.125H467.29M426.17 49.0V54.1M426.17 578.4V583.85M467.29 51.55H508.41M467.29 49.0V54.1M467.29 578.4V583.85M508.41 581.125H549.53M508.41 49.0V54.1M508.41 578.4V583.85M549.53 51.55H590.65M549.53 49.0V54.1M549.53 578.4V583.85M590.65 581.125H611.21M590.65 49.0V54.1M590.65 578.4V583.85M611.21 51.55H626.60M611.21 49.0V54.1M611.21 578.4V583.85" fill="none" stroke="#1a1a1a" stroke-width="1"/>
<path d="M173.85 49.0H179.45M631.9 49.0H636.9M173.85 187.3H179.45M631.9 187.3H636.9M173.85 322.3H179.45M631.9 322.3H636.9M173.85 454.5H179.45M631.9 454.5H636.9M173.85 583.85H179.45M631.9 583.85H636.9M179.45 43.8V49.0M179.45 583.85V589.0500000000001M261.69 43.8V49.0M261.69 583.85V589.0500000000001M343.93 43.8V49.0M343.93 583.85V589.0500000000001M426.17 43.8V49.0M426.17 583.85V589.0500000000001M508.41 43.8V49.0M508.41 583.85V589.0500000000001M590.65 43.8V49.0M590.65 583.85V589.0500000000001" fill="none" stroke="#000" stroke-width="1.9"/>
<text font-size="22.4" fill="#000" y="59.60"><tspan x="120.20" textLength="22.4" lengthAdjust="spacingAndGlyphs">54</tspan><tspan x="142.70" dy="-9.0" font-size="18.4" textLength="10.0" lengthAdjust="spacingAndGlyphs">o</tspan><tspan x="152.80" dy="9.0" textLength="15.2" lengthAdjust="spacingAndGlyphs">N</tspan></text>
<text font-size="22.4" fill="#000" y="197.90"><tspan x="120.20" textLength="22.4" lengthAdjust="spacingAndGlyphs">53</tspan><tspan x="142.70" dy="-9.0" font-size="18.4" textLength="10.0" lengthAdjust="spacingAndGlyphs">o</tspan><tspan x="152.80" dy="9.0" textLength="15.2" lengthAdjust="spacingAndGlyphs">N</tspan></text>
<text font-size="22.4" fill="#000" y="332.90"><tspan x="120.20" textLength="22.4" lengthAdjust="spacingAndGlyphs">52</tspan><tspan x="142.70" dy="-9.0" font-size="18.4" textLength="10.0" lengthAdjust="spacingAndGlyphs">o</tspan><tspan x="152.80" dy="9.0" textLength="15.2" lengthAdjust="spacingAndGlyphs">N</tspan></text>
<text font-size="22.4" fill="#000" y="465.10"><tspan x="120.20" textLength="22.4" lengthAdjust="spacingAndGlyphs">51</tspan><tspan x="142.70" dy="-9.0" font-size="18.4" textLength="10.0" lengthAdjust="spacingAndGlyphs">o</tspan><tspan x="152.80" dy="9.0" textLength="15.2" lengthAdjust="spacingAndGlyphs">N</tspan></text>
<text font-size="22.4" fill="#000" y="594.45"><tspan x="120.20" textLength="22.4" lengthAdjust="spacingAndGlyphs">50</tspan><tspan x="142.70" dy="-9.0" font-size="18.4" textLength="10.0" lengthAdjust="spacingAndGlyphs">o</tspan><tspan x="152.80" dy="9.0" textLength="15.2" lengthAdjust="spacingAndGlyphs">N</tspan></text>
<text font-size="22.4" fill="#000" y="615.40"><tspan x="147.45" textLength="33.6" lengthAdjust="spacingAndGlyphs">101</tspan><tspan x="181.15" dy="-9.0" font-size="18.4" textLength="10.0" lengthAdjust="spacingAndGlyphs">o</tspan><tspan x="191.25" dy="9.0" textLength="19.8" lengthAdjust="spacingAndGlyphs">W</tspan></text>
<text font-size="22.4" fill="#000" y="615.40"><tspan x="229.69" textLength="33.6" lengthAdjust="spacingAndGlyphs">100</tspan><tspan x="263.39" dy="-9.0" font-size="18.4" textLength="10.0" lengthAdjust="spacingAndGlyphs">o</tspan><tspan x="273.49" dy="9.0" textLength="19.8" lengthAdjust="spacingAndGlyphs">W</tspan></text>
<text font-size="22.4" fill="#000" y="615.40"><tspan x="317.53" textLength="22.4" lengthAdjust="spacingAndGlyphs">99</tspan><tspan x="340.03" dy="-9.0" font-size="18.4" textLength="10.0" lengthAdjust="spacingAndGlyphs">o</tspan><tspan x="350.13" dy="9.0" textLength="19.8" lengthAdjust="spacingAndGlyphs">W</tspan></text>
<text font-size="22.4" fill="#000" y="615.40"><tspan x="399.77" textLength="22.4" lengthAdjust="spacingAndGlyphs">98</tspan><tspan x="422.27" dy="-9.0" font-size="18.4" textLength="10.0" lengthAdjust="spacingAndGlyphs">o</tspan><tspan x="432.37" dy="9.0" textLength="19.8" lengthAdjust="spacingAndGlyphs">W</tspan></text>
<text font-size="22.4" fill="#000" y="615.40"><tspan x="482.01" textLength="22.4" lengthAdjust="spacingAndGlyphs">97</tspan><tspan x="504.51" dy="-9.0" font-size="18.4" textLength="10.0" lengthAdjust="spacingAndGlyphs">o</tspan><tspan x="514.61" dy="9.0" textLength="19.8" lengthAdjust="spacingAndGlyphs">W</tspan></text>
<text font-size="22.4" fill="#000" y="615.40"><tspan x="564.25" textLength="22.4" lengthAdjust="spacingAndGlyphs">96</tspan><tspan x="586.75" dy="-9.0" font-size="18.4" textLength="10.0" lengthAdjust="spacingAndGlyphs">o</tspan><tspan x="596.85" dy="9.0" textLength="19.8" lengthAdjust="spacingAndGlyphs">W</tspan></text>
<text font-size="22" font-weight="bold" fill="#000" y="39.2"><tspan x="31.5" textLength="49.7" lengthAdjust="spacing">2008</tspan><tspan x="88.0" textLength="156.0" lengthAdjust="spacing">LakeWinnipeg</tspan><tspan x="249.4" textLength="181.3" lengthAdjust="spacing">2008154-010-006</tspan><tspan x="437.0" textLength="231.7" lengthAdjust="spacing">SpecificConductance</tspan><tspan x="676.3" textLength="36.6" lengthAdjust="spacing">(uS</tspan><tspan x="719.3" textLength="32.0" lengthAdjust="spacing">cm</tspan><tspan x="754.0" dy="-10.6" font-size="19">-</tspan><tspan x="761.8" dy="10.6" textLength="18.9" lengthAdjust="spacing">1)</tspan></text>
</g>
<g id="stations">
<g stroke="none">
<circle cx="350.1" cy="104.60" r="3.8" fill="#ffb300"/>
<circle cx="350.1" cy="105.36" r="3.8" fill="#ffb300"/>
<circle cx="350.1" cy="106.11" r="3.8" fill="#ffb300"/>
<circle cx="350.1" cy="106.87" r="3.8" fill="#ffb300"/>
<circle cx="350.1" cy="107.63" r="3.8" fill="#ffb300"/>
<circle cx="350.1" cy="108.39" r="3.8" fill="#ffb300"/>
<circle cx="350.1" cy="109.14" r="3.8" fill="#ffb300"/>
<circle cx="350.1" cy="109.90" r="3.8" fill="#ffb300"/>
<circle cx="386.5" cy="95.80" r="3.8" fill="#ffb000"/>
<circle cx="386.5" cy="96.58" r="3.8" fill="#ffb000"/>
<circle cx="386.5" cy="97.36" r="3.8" fill="#ffb800"/>
<circle cx="386.5" cy="98.14" r="3.8" fill="#ffb800"/>
<circle cx="386.5" cy="98.92" r="3.8" fill="#ffb800"/>
<circle cx="386.5" cy="99.70" r="3.8" fill="#ffc400"/>
<circle cx="386.5" cy="100.48" r="3.8" fill="#ffc400"/>
<circle cx="386.5" cy="101.26" r="3.8" fill="#ffc400"/>
<circle cx="386.5" cy="102.04" r="3.8" fill="#ffc400"/>
<circle cx="386.5" cy="102.82" r="3.8" fill="#ffb800"/>
<circle cx="386.5" cy="103.60" r="3.8" fill="#ffb800"/>
<circle cx="429.0" cy="102.80" r="3.8" fill="#ffe800"/>
<circle cx="429.0" cy="103.60" r="3.8" fill="#ffe800"/>
<circle cx="429.0" cy="104.40" r="3.8" fill="#ffe800"/>
<circle cx="429.0" cy="105.20" r="3.8" fill="#ffe800"/>
<circle cx="429.0" cy="106.00" r="3.8" fill="#ffe800"/>
<circle cx="429.0" cy="106.80" r="3.8" fill="#ffe800"/>
<circle cx="429.0" cy="107.60" r="3.8" fill="#ffe800"/>
<circle cx="429.0" cy="108.40" r="3.8" fill="#ffe800"/>
<circle cx="429.0" cy="109.20" r="3.8" fill="#ffe800"/>
<circle cx="403.8" cy="116.80" r="3.8" fill="#f0ff10"/>
<circle cx="403.8" cy="117.59" r="3.8" fill="#f0ff10"/>
<circle cx="403.8" cy="118.38" r="3.8" fill="#f0ff10"/>
<circle cx="403.8" cy="119.17" r="3.8" fill="#f0ff10"/>
<circle cx="403.8" cy="119.96" r="3.8" fill="#f0ff10"/>
<circle cx="403.8" cy="120.75" r="3.8" fill="#f0ff10"/>
<circle cx="403.8" cy="121.54" r="3.8" fill="#e8ff18"/>
<circle cx="403.8" cy="122.33" r="3.8" fill="#e8ff18"/>
<circle cx="403.8" cy="123.12" r="3.8" fill="#e8ff18"/>
<circle cx="403.8" cy="123.91" r="3.8" fill="#e8ff18"/>
<circle cx="403.8" cy="124.70" r="3.8" fill="#e8ff18"/>
<circle cx="433.2" cy="130.50" r="3.8" fill="#d4ff2b"/>
<circle cx="433.2" cy="131.30" r="3.8" fill="#d4ff2b"/>
<circle cx="433.2" cy="132.10" r="3.8" fill="#d4ff2b"/>
<circle cx="433.2" cy="132.90" r="3.8" fill="#d4ff2b"/>
<circle cx="433.2" cy="133.70" r="3.8" fill="#d4ff2b"/>
<circle cx="433.2" cy="134.50" r="3.8" fill="#d4ff2b"/>
<circle cx="433.2" cy="135.30" r="3.8" fill="#d4ff2b"/>
<circle cx="433.2" cy="136.10" r="3.8" fill="#d4ff2b"/>
<circle cx="433.2" cy="136.90" r="3.8" fill="#d4ff2b"/>
<circle cx="433.2" cy="137.70" r="3.8" fill="#d4ff2b"/>
<circle cx="433.2" cy="138.50" r="3.8" fill="#d4ff2b"/>
<circle cx="394.1" cy="135.90" r="3.8" fill="#fff200"/>
<circle cx="394.1" cy="136.69" r="3.8" fill="#fff200"/>
<circle cx="394.1" cy="137.48" r="3.8" fill="#fff200"/>
<circle cx="394.1" cy="138.27" r="3.8" fill="#fff200"/>
<circle cx="394.1" cy="139.06" r="3.8" fill="#fff200"/>
<circle cx="394.1" cy="139.85" r="3.8" fill="#fff200"/>
<circle cx="394.1" cy="140.64" r="3.8" fill="#f8ff08"/>
<circle cx="394.1" cy="141.43" r="3.8" fill="#f8ff08"/>
<circle cx="394.1" cy="142.22" r="3.8" fill="#f8ff08"/>
<circle cx="394.1" cy="143.01" r="3.8" fill="#f8ff08"/>
<circle cx="394.1" cy="143.80" r="3.8" fill="#f8ff08"/>
<circle cx="341.8" cy="150.80" r="3.8" fill="#ff9c00"/>
<circle cx="341.8" cy="151.60" r="3.8" fill="#ff9c00"/>
<circle cx="341.8" cy="152.40" r="3.8" fill="#ff9c00"/>
<circle cx="341.8" cy="153.20" r="3.8" fill="#ff9c00"/>
<circle cx="341.8" cy="154.00" r="3.8" fill="#ff9c00"/>
<circle cx="341.8" cy="154.80" r="3.8" fill="#ff9c00"/>
<circle cx="341.8" cy="155.60" r="3.8" fill="#ff9c00"/>
<circle cx="341.8" cy="156.40" r="3.8" fill="#ff9c00"/>
<circle cx="341.8" cy="157.20" r="3.8" fill="#ff9c00"/>
<circle cx="341.8" cy="158.00" r="3.8" fill="#ff9c00"/>
<circle cx="324.6" cy="158.00" r="3.8" fill="#ff0400"/>
<circle cx="324.6" cy="158.80" r="3.8" fill="#ff0400"/>
<circle cx="324.6" cy="159.60" r="3.8" fill="#ff0400"/>
<circle cx="324.6" cy="160.40" r="3.8" fill="#ff3000"/>
<circle cx="324.6" cy="161.20" r="3.8" fill="#ff3000"/>
<circle cx="324.6" cy="162.00" r="3.8" fill="#ff3000"/>
<ellipse cx="324.6" cy="160.20" rx="1.3" ry="0.6" fill="#fff"/>
<circle cx="364.0" cy="176.30" r="3.8" fill="#ff3c00"/>
<circle cx="364.0" cy="177.10" r="3.8" fill="#ff3c00"/>
<circle cx="364.0" cy="177.90" r="3.8" fill="#ff3c00"/>
<circle cx="364.0" cy="178.70" r="3.8" fill="#ff3c00"/>
<circle cx="364.0" cy="179.50" r="3.8" fill="#ff3c00"/>
<circle cx="364.0" cy="180.30" r="3.8" fill="#ff4800"/>
<circle cx="364.0" cy="181.10" r="3.8" fill="#ff4800"/>
<circle cx="364.0" cy="181.90" r="3.8" fill="#ff4800"/>
<circle cx="364.0" cy="182.70" r="3.8" fill="#ff4800"/>
<circle cx="364.0" cy="183.50" r="3.8" fill="#ff4800"/>
<circle cx="409.3" cy="176.90" r="3.8" fill="#ffc400"/>
<circle cx="409.3" cy="177.71" r="3.8" fill="#ffc400"/>
<circle cx="409.3" cy="178.52" r="3.8" fill="#ffb000"/>
<circle cx="409.3" cy="179.33" r="3.8" fill="#ffb000"/>
<circle cx="409.3" cy="180.14" r="3.8" fill="#ffb000"/>
<circle cx="409.3" cy="180.95" r="3.8" fill="#ff8c00"/>
<circle cx="409.3" cy="181.76" r="3.8" fill="#ff8c00"/>
<circle cx="409.3" cy="182.57" r="3.8" fill="#ff8c00"/>
<circle cx="409.3" cy="183.38" r="3.8" fill="#ff8c00"/>
<circle cx="409.3" cy="184.19" r="3.8" fill="#ff7000"/>
<circle cx="409.3" cy="185.00" r="3.8" fill="#ff7000"/>
<circle cx="439.2" cy="163.70" r="3.8" fill="#b4ff4b"/>
<circle cx="439.2" cy="164.49" r="3.8" fill="#b4ff4b"/>
<circle cx="439.2" cy="165.28" r="3.8" fill="#b4ff4b"/>
<circle cx="439.2" cy="166.07" r="3.8" fill="#b4ff4b"/>
<circle cx="439.2" cy="166.86" r="3.8" fill="#b4ff4b"/>
<circle cx="439.2" cy="167.65" r="3.8" fill="#b4ff4b"/>
<circle cx="439.2" cy="168.45" r="3.8" fill="#a8ff57"/>
<circle cx="439.2" cy="169.24" r="3.8" fill="#a8ff57"/>
<circle cx="439.2" cy="170.03" r="3.8" fill="#a8ff57"/>
<circle cx="439.2" cy="170.82" r="3.8" fill="#a8ff57"/>
<circle cx="439.2" cy="171.61" r="3.8" fill="#a8ff57"/>
<circle cx="439.2" cy="172.40" r="3.8" fill="#a8ff57"/>
<circle cx="439.2" cy="172.6" r="3.3" fill="none" stroke="#ff7a00" stroke-width="1.1"/>
<circle cx="450.9" cy="183.80" r="3.8" fill="#98ff66"/>
<circle cx="450.9" cy="184.60" r="3.8" fill="#98ff66"/>
<circle cx="450.9" cy="185.40" r="3.8" fill="#98ff66"/>
<circle cx="450.9" cy="186.20" r="3.8" fill="#98ff66"/>
<circle cx="450.9" cy="187.00" r="3.8" fill="#98ff66"/>
<circle cx="450.9" cy="187.80" r="3.8" fill="#90ff6e"/>
<circle cx="450.9" cy="188.60" r="3.8" fill="#90ff6e"/>
<circle cx="450.9" cy="189.40" r="3.8" fill="#90ff6e"/>
<circle cx="450.9" cy="190.20" r="3.8" fill="#90ff6e"/>
<circle cx="450.9" cy="191.00" r="3.8" fill="#90ff6e"/>
<circle cx="405.2" cy="204.90" r="3.8" fill="#ff0000"/>
<circle cx="405.2" cy="205.73" r="3.8" fill="#ff0000"/>
<circle cx="405.2" cy="206.56" r="3.8" fill="#ff0000"/>
<circle cx="405.2" cy="207.39" r="3.8" fill="#ff0000"/>
<circle cx="405.2" cy="208.22" r="3.8" fill="#ff0000"/>
<circle cx="405.2" cy="209.05" r="3.8" fill="#ff0000"/>
<circle cx="405.2" cy="209.88" r="3.8" fill="#f40000"/>
<circle cx="405.2" cy="210.71" r="3.8" fill="#f40000"/>
<circle cx="405.2" cy="211.54" r="3.8" fill="#f40000"/>
<circle cx="405.2" cy="212.37" r="3.8" fill="#f40000"/>
<circle cx="405.2" cy="213.20" r="3.8" fill="#f40000"/>
<circle cx="388.8" cy="210.80" r="3.8" fill="#ff8c00"/>
<circle cx="388.8" cy="211.57" r="3.8" fill="#ff8c00"/>
<circle cx="388.8" cy="212.33" r="3.8" fill="#ff9400"/>
<circle cx="388.8" cy="213.10" r="3.8" fill="#ff9400"/>
<circle cx="388.8" cy="213.87" r="3.8" fill="#ff9400"/>
<circle cx="388.8" cy="214.63" r="3.8" fill="#ffa000"/>
<circle cx="388.8" cy="215.40" r="3.8" fill="#ffa000"/>
<circle cx="388.8" cy="216.17" r="3.8" fill="#ffa000"/>
<circle cx="388.8" cy="216.93" r="3.8" fill="#ff9000"/>
<circle cx="388.8" cy="217.70" r="3.8" fill="#ff9000"/>
<circle cx="462.1" cy="215.20" r="3.8" fill="#b8ff47"/>
<circle cx="462.1" cy="216.01" r="3.8" fill="#b8ff47"/>
<circle cx="462.1" cy="216.83" r="3.8" fill="#b8ff47"/>
<circle cx="462.1" cy="217.64" r="3.8" fill="#b8ff47"/>
<circle cx="462.1" cy="218.45" r="3.8" fill="#b8ff47"/>
<circle cx="462.1" cy="219.26" r="3.8" fill="#b8ff47"/>
<circle cx="462.1" cy="220.07" r="3.8" fill="#b8ff47"/>
<circle cx="462.1" cy="220.89" r="3.8" fill="#b8ff47"/>
<circle cx="462.1" cy="221.70" r="3.8" fill="#b8ff47"/>
<circle cx="369.3" cy="234.40" r="3.8" fill="#ffe800"/>
<circle cx="369.3" cy="235.18" r="3.8" fill="#ffe800"/>
<circle cx="369.3" cy="235.95" r="3.8" fill="#ffe800"/>
<circle cx="369.3" cy="236.72" r="3.8" fill="#ffe800"/>
<circle cx="369.3" cy="237.50" r="3.8" fill="#ffe800"/>
<ellipse cx="369.3" cy="236.05" rx="1.3" ry="0.45" fill="#665"/>
<circle cx="399.0" cy="236.80" r="3.8" fill="#ff2000"/>
<circle cx="399.0" cy="237.56" r="3.8" fill="#ff2000"/>
<circle cx="399.0" cy="238.32" r="3.8" fill="#ff2000"/>
<circle cx="399.0" cy="239.09" r="3.8" fill="#ff2000"/>
<circle cx="399.0" cy="239.85" r="3.8" fill="#ff2000"/>
<circle cx="399.0" cy="240.61" r="3.8" fill="#ff0800"/>
<circle cx="399.0" cy="241.38" r="3.8" fill="#ff0800"/>
<circle cx="399.0" cy="242.14" r="3.8" fill="#ff0800"/>
<circle cx="399.0" cy="242.90" r="3.8" fill="#ff0800"/>
<circle cx="448.0" cy="236.30" r="3.8" fill="#a8ff57"/>
<circle cx="448.0" cy="237.08" r="3.8" fill="#a8ff57"/>
<circle cx="448.0" cy="237.86" r="3.8" fill="#a8ff57"/>
<circle cx="448.0" cy="238.64" r="3.8" fill="#a8ff57"/>
<circle cx="448.0" cy="239.42" r="3.8" fill="#a8ff57"/>
<circle cx="448.0" cy="240.20" r="3.8" fill="#a8ff57"/>
<circle cx="448.0" cy="240.98" r="3.8" fill="#a8ff57"/>
<circle cx="448.0" cy="241.76" r="3.8" fill="#a8ff57"/>
<circle cx="448.0" cy="242.54" r="3.8" fill="#a8ff57"/>
<circle cx="448.0" cy="243.32" r="3.8" fill="#a8ff57"/>
<circle cx="448.0" cy="244.10" r="3.8" fill="#a8ff57"/>
<circle cx="480.6" cy="264.50" r="3.8" fill="#78ff87"/>
<circle cx="480.6" cy="265.31" r="3.8" fill="#78ff87"/>
<circle cx="480.6" cy="266.12" r="3.8" fill="#88ff77"/>
<circle cx="480.6" cy="266.93" r="3.8" fill="#88ff77"/>
<circle cx="480.6" cy="267.74" r="3.8" fill="#88ff77"/>
<circle cx="480.6" cy="268.56" r="3.8" fill="#c8ff37"/>
<circle cx="480.6" cy="269.37" r="3.8" fill="#c8ff37"/>
<circle cx="480.6" cy="270.18" r="3.8" fill="#c8ff37"/>
<circle cx="480.6" cy="270.99" r="3.8" fill="#a0ff5f"/>
<circle cx="480.6" cy="271.80" r="3.8" fill="#a0ff5f"/>
<circle cx="456.8" cy="290.30" r="3.8" fill="#c8ff30"/>
<circle cx="456.8" cy="291.10" r="3.8" fill="#b8ff48"/>
<circle cx="456.8" cy="291.90" r="3.8" fill="#b8ff48"/>
<circle cx="456.8" cy="292.70" r="3.8" fill="#90ff70"/>
<circle cx="456.8" cy="293.50" r="3.8" fill="#90ff70"/>
<circle cx="456.8" cy="294.30" r="3.8" fill="#68ff98"/>
<circle cx="456.8" cy="295.10" r="3.8" fill="#68ff98"/>
<circle cx="456.8" cy="295.90" r="3.8" fill="#c0ff40"/>
<circle cx="456.8" cy="296.70" r="3.8" fill="#c0ff40"/>
<circle cx="456.8" cy="297.50" r="3.8" fill="#e0ff20"/>
<circle cx="456.8" cy="298.0" r="2.0" fill="#58ffa8"/>
<circle cx="492.6" cy="287.40" r="3.8" fill="#0084ff"/>
<circle cx="492.6" cy="288.20" r="3.8" fill="#0084ff"/>
<circle cx="492.6" cy="289.00" r="3.8" fill="#0084ff"/>
<circle cx="492.6" cy="289.80" r="3.8" fill="#0084ff"/>
<circle cx="492.6" cy="290.60" r="3.8" fill="#0084ff"/>
<circle cx="492.6" cy="291.40" r="3.8" fill="#0084ff"/>
<circle cx="492.6" cy="292.20" r="3.8" fill="#0084ff"/>
<ellipse cx="492.6" cy="289.80" rx="0.9" ry="0.45" fill="#fff"/>
<circle cx="474.1" cy="308.80" r="3.8" fill="#0054ff"/>
<circle cx="474.1" cy="309.63" r="3.8" fill="#0054ff"/>
<circle cx="474.1" cy="310.47" r="3.8" fill="#0054ff"/>
<circle cx="474.1" cy="311.30" r="3.8" fill="#0054ff"/>
<circle cx="474.1" cy="312.13" r="3.8" fill="#0054ff"/>
<circle cx="474.1" cy="312.97" r="3.8" fill="#0054ff"/>
<circle cx="474.1" cy="313.80" r="3.8" fill="#0054ff"/>
<ellipse cx="474.1" cy="311.30" rx="0.6" ry="0.3" fill="#fff"/>
<circle cx="498.0" cy="306.90" r="3.8" fill="#0020ff"/>
<circle cx="498.0" cy="307.73" r="3.8" fill="#0020ff"/>
<circle cx="498.0" cy="308.57" r="3.8" fill="#0020ff"/>
<circle cx="498.0" cy="309.40" r="3.8" fill="#0020ff"/>
<circle cx="498.0" cy="310.23" r="3.8" fill="#0020ff"/>
<circle cx="498.0" cy="311.07" r="3.8" fill="#0020ff"/>
<circle cx="498.0" cy="311.90" r="3.8" fill="#0020ff"/>
<ellipse cx="498.0" cy="309.40" rx="0.7" ry="0.35" fill="#fff"/>
<circle cx="493.3" cy="321.40" r="3.8" fill="#1060ff"/>
<circle cx="493.3" cy="322.18" r="3.8" fill="#1060ff"/>
<circle cx="493.3" cy="322.97" r="3.8" fill="#1060ff"/>
<circle cx="493.3" cy="323.75" r="3.8" fill="#1060ff"/>
<circle cx="493.3" cy="324.53" r="3.8" fill="#1060ff"/>
<circle cx="493.3" cy="325.32" r="3.8" fill="#1060ff"/>
<circle cx="493.3" cy="326.10" r="3.8" fill="#1060ff"/>
<ellipse cx="493.3" cy="323.75" rx="0.7" ry="0.35" fill="#fff"/>
<circle cx="514.0" cy="341.60" r="3.8" fill="#0064ff"/>
<circle cx="514.0" cy="342.47" r="3.8" fill="#0064ff"/>
<circle cx="514.0" cy="343.33" r="3.8" fill="#0064ff"/>
<circle cx="514.0" cy="344.20" r="3.8" fill="#0064ff"/>
<circle cx="514.0" cy="345.07" r="3.8" fill="#0054ff"/>
<circle cx="514.0" cy="345.93" r="3.8" fill="#0054ff"/>
<circle cx="514.0" cy="346.80" r="3.8" fill="#0054ff"/>
<circle cx="520.0" cy="354.00" r="3.8" fill="#0030ff"/>
<circle cx="520.0" cy="354.77" r="3.8" fill="#0030ff"/>
<circle cx="520.0" cy="355.55" r="3.8" fill="#0030ff"/>
<circle cx="520.0" cy="356.32" r="3.8" fill="#0030ff"/>
<circle cx="520.0" cy="357.10" r="3.8" fill="#0030ff"/>
<circle cx="520.0" cy="357.88" r="3.8" fill="#0030ff"/>
<circle cx="520.0" cy="358.65" r="3.8" fill="#0030ff"/>
<circle cx="520.0" cy="359.43" r="3.8" fill="#0028ff"/>
<circle cx="520.0" cy="360.20" r="3.8" fill="#0028ff"/>
<circle cx="520.0" cy="360.98" r="3.8" fill="#0028ff"/>
<circle cx="520.0" cy="361.75" r="3.8" fill="#0028ff"/>
<circle cx="520.0" cy="362.53" r="3.8" fill="#0028ff"/>
<circle cx="520.0" cy="363.30" r="3.8" fill="#0028ff"/>
<circle cx="531.4" cy="374.80" r="3.8" fill="#0828ff"/>
<circle cx="531.4" cy="375.61" r="3.8" fill="#0828ff"/>
<circle cx="531.4" cy="376.42" r="3.8" fill="#0828ff"/>
<circle cx="531.4" cy="377.23" r="3.8" fill="#0828ff"/>
<circle cx="531.4" cy="378.03" r="3.8" fill="#0828ff"/>
<circle cx="531.4" cy="378.84" r="3.8" fill="#0828ff"/>
<circle cx="531.4" cy="379.65" r="3.8" fill="#0828ff"/>
<circle cx="531.4" cy="380.46" r="3.8" fill="#0020ff"/>
<circle cx="531.4" cy="381.27" r="3.8" fill="#0020ff"/>
<circle cx="531.4" cy="382.07" r="3.8" fill="#0020ff"/>
<circle cx="531.4" cy="382.88" r="3.8" fill="#0020ff"/>
<circle cx="531.4" cy="383.69" r="3.8" fill="#0020ff"/>
<circle cx="531.4" cy="384.50" r="3.8" fill="#0020ff"/>
<circle cx="538.1" cy="396.10" r="3.8" fill="#0c1cff"/>
<circle cx="538.1" cy="396.88" r="3.8" fill="#0c1cff"/>
<circle cx="538.1" cy="397.66" r="3.8" fill="#0c1cff"/>
<circle cx="538.1" cy="398.44" r="3.8" fill="#0c1cff"/>
<circle cx="538.1" cy="399.22" r="3.8" fill="#0c1cff"/>
<circle cx="538.1" cy="400.00" r="3.8" fill="#0c1cff"/>
<ellipse cx="538.1" cy="398.25" rx="1.4" ry="0.7" fill="#fff"/>
<circle cx="542.6" cy="410.40" r="3.8" fill="#1090ff"/>
<circle cx="542.6" cy="411.23" r="3.8" fill="#1090ff"/>
<circle cx="542.6" cy="412.06" r="3.8" fill="#1090ff"/>
<circle cx="542.6" cy="412.89" r="3.8" fill="#1090ff"/>
<circle cx="542.6" cy="413.71" r="3.8" fill="#1090ff"/>
<circle cx="542.6" cy="414.54" r="3.8" fill="#1090ff"/>
<circle cx="542.6" cy="415.37" r="3.8" fill="#1090ff"/>
<circle cx="542.6" cy="416.20" r="3.8" fill="#1090ff"/>
<circle cx="547.0" cy="421.30" r="3.8" fill="#1090ff"/>
<circle cx="547.0" cy="422.15" r="3.8" fill="#1090ff"/>
<circle cx="547.0" cy="423.00" r="3.8" fill="#1090ff"/>
<circle cx="547.0" cy="423.85" r="3.8" fill="#1088ff"/>
<circle cx="547.0" cy="424.70" r="3.8" fill="#1088ff"/>
<circle cx="531.4" cy="426.50" r="3.8" fill="#1030ff"/>
<circle cx="531.4" cy="427.30" r="3.8" fill="#1030ff"/>
<circle cx="531.4" cy="428.10" r="3.8" fill="#1030ff"/>
<ellipse cx="531.4" cy="427.30" rx="2.2" ry="1.25" fill="#fff"/>
<circle cx="539.7" cy="437.00" r="3.8" fill="#189cff"/>
<circle cx="539.7" cy="437.78" r="3.8" fill="#189cff"/>
<circle cx="539.7" cy="438.56" r="3.8" fill="#20b4ff"/>
<circle cx="539.7" cy="439.34" r="3.8" fill="#20b4ff"/>
<circle cx="539.7" cy="440.12" r="3.8" fill="#28d0ff"/>
<circle cx="539.7" cy="440.90" r="3.8" fill="#28d0ff"/>
<ellipse cx="539.7" cy="438.95" rx="0.9" ry="0.4" fill="#fff"/>
<circle cx="555.6" cy="436.60" r="3.8" fill="#1070ff"/>
<circle cx="555.6" cy="437.36" r="3.8" fill="#0068ff"/>
<circle cx="555.6" cy="438.12" r="3.8" fill="#0070ff"/>
<circle cx="555.6" cy="438.88" r="3.8" fill="#0070ff"/>
<circle cx="555.6" cy="439.64" r="3.8" fill="#00c8ff"/>
<circle cx="555.6" cy="440.40" r="3.8" fill="#00e8ff"/>
<circle cx="542.8" cy="453.60" r="3.8" fill="#00d8ff"/>
<circle cx="542.8" cy="454.42" r="3.8" fill="#30e0e0"/>
<circle cx="542.8" cy="455.24" r="3.8" fill="#30e0e0"/>
<circle cx="542.8" cy="456.06" r="3.8" fill="#90ff70"/>
<circle cx="542.8" cy="456.88" r="3.8" fill="#90ff70"/>
<circle cx="542.8" cy="457.70" r="3.8" fill="#d0ff30"/>
<circle cx="549.8" cy="454.40" r="3.8" fill="#0030e0"/>
<circle cx="549.8" cy="455.05" r="3.8" fill="#0030e0"/>
<circle cx="549.8" cy="455.70" r="3.8" fill="#0020c0"/>
<circle cx="519.6" cy="458.60" r="3.8" fill="#40ffc0"/>
<circle cx="519.6" cy="459.40" r="3.8" fill="#40ffc0"/>
<ellipse cx="519.6" cy="459.00" rx="2.0" ry="1.2" fill="#fff"/>
<circle cx="533.7" cy="461.00" r="3.8" fill="#2098ff"/>
<circle cx="533.7" cy="461.85" r="3.8" fill="#38e0e0"/>
<circle cx="533.7" cy="462.70" r="3.8" fill="#40ffc0"/>
<circle cx="533.7" cy="463.55" r="3.8" fill="#40ffc0"/>
<circle cx="533.7" cy="464.40" r="3.8" fill="#50ffb0"/>
<circle cx="541.9" cy="471.00" r="3.8" fill="#ff2800"/>
<circle cx="541.9" cy="471.84" r="3.8" fill="#ff2800"/>
<circle cx="541.9" cy="472.68" r="3.8" fill="#ff2800"/>
<circle cx="541.9" cy="473.51" r="3.8" fill="#ff3000"/>
<circle cx="541.9" cy="474.35" r="3.8" fill="#ff3000"/>
<circle cx="541.9" cy="475.19" r="3.8" fill="#ff3000"/>
<circle cx="541.9" cy="476.02" r="3.8" fill="#ff2000"/>
<circle cx="541.9" cy="476.86" r="3.8" fill="#ff2000"/>
<circle cx="541.9" cy="477.70" r="3.8" fill="#ff2000"/>
<circle cx="553.4" cy="475.60" r="3.8" fill="#90ff70"/>
<circle cx="553.4" cy="476.80" r="3.8" fill="#a0ff60"/>
<circle cx="527.4" cy="482.50" r="3.8" fill="#80ff80"/>
<circle cx="527.4" cy="483.30" r="3.8" fill="#80ff80"/>
<circle cx="527.4" cy="484.10" r="3.8" fill="#90ff70"/>
<circle cx="541.6" cy="486.20" r="3.8" fill="#20e8e0"/>
<circle cx="541.6" cy="487.00" r="3.8" fill="#10d8f0"/>
<circle cx="541.6" cy="487.80" r="3.8" fill="#10d8f0"/>
<circle cx="541.6" cy="488.60" r="3.8" fill="#30ffd0"/>
<circle cx="553.0" cy="486.20" r="3.8" fill="#0000b0"/>
<circle cx="553.0" cy="487.00" r="3.8" fill="#0000b0"/>
<circle cx="553.0" cy="487.80" r="3.8" fill="#0000a0"/>
<circle cx="553.0" cy="488.60" r="3.8" fill="#0000a0"/>
<circle cx="514.2" cy="489.40" r="3.8" fill="#30ffd0"/>
<circle cx="514.2" cy="490.20" r="3.8" fill="#30ffd0"/>
<circle cx="514.2" cy="491.00" r="3.8" fill="#30ffd0"/>
<circle cx="514.2" cy="491.80" r="3.8" fill="#40ffc0"/>
<circle cx="514.2" cy="492.60" r="3.8" fill="#40ffc0"/>
<circle cx="514.2" cy="492.7" r="2.9" fill="none" stroke="#e0ff20" stroke-width="1.1"/>
<circle cx="524.7" cy="494.80" r="3.8" fill="#20f0e0"/>
<circle cx="512.6" cy="503.00" r="3.8" fill="#40ffc0"/>
<circle cx="512.6" cy="503.87" r="3.8" fill="#40ffc0"/>
<circle cx="512.6" cy="504.73" r="3.8" fill="#48ffb8"/>
<circle cx="512.6" cy="505.60" r="3.8" fill="#48ffb8"/>
<ellipse cx="512.6" cy="504.30" rx="1.3" ry="0.45" fill="#fff"/>
<circle cx="559.4" cy="501.05" r="3.8" fill="#0000a8"/>
<ellipse cx="559.4" cy="501.05" rx="2.0" ry="1.3" fill="#fff"/>
<circle cx="535.8" cy="510.50" r="3.8" fill="#80ff80"/>
<circle cx="535.6" cy="515.1" r="3.1" fill="none" stroke="#ff7000" stroke-width="1.1"/>
<circle cx="524.7" cy="508.30" r="3.8" fill="#20f0e0"/>
<circle cx="524.7" cy="508.3" r="3.3" fill="none" stroke="#ff5000" stroke-width="1.1"/>
<circle cx="521.9" cy="518.50" r="3.8" fill="#ff2000"/>
<circle cx="521.9" cy="519.25" r="3.8" fill="#ff2000"/>
<circle cx="521.9" cy="520.00" r="3.8" fill="#ff0800"/>
<ellipse cx="521.9" cy="520.25" rx="1.8" ry="0.7" fill="#fff"/>
<circle cx="521.9" cy="529.20" r="3.8" fill="#ff0000"/>
<ellipse cx="521.9" cy="529.30" rx="2.0" ry="1.1" fill="#fff"/>
<circle cx="532.4" cy="527.80" r="3.8" fill="#ffa800"/>
<circle cx="540.2" cy="525.10" r="3.8" fill="#d0ff30"/>
</g>
<g font-size="16.3" fill="#000">
<text x="353.6" y="107.3">31</text>
<text x="390.2" y="99.1">34S</text>
<text x="432.6" y="106.4">22</text>
<text x="407.4" y="120.1">23B</text>
<text x="436.6" y="133.3">21</text>
<text x="397.5" y="138.9">W1</text>
<text x="345.2" y="153.9">W2</text>
<text x="327.8" y="161.3">28</text>
<text x="367.3" y="178.6">26S</text>
<text x="413.0" y="180.4">39</text>
<text x="443.6" y="166.4">W3</text>
<text x="455.4" y="187.1">19</text>
<text x="408.9" y="208.5">W4</text>
<text x="392.5" y="213.5">41</text>
<text x="465.4" y="217.3">W5</text>
<text x="372.6" y="237.0">43S</text>
<text x="402.6" y="240.2">45</text>
<text x="451.0" y="238.9">W6</text>
<text x="484.3" y="267.2">W7</text>
<text x="460.4" y="293.0">64</text>
<text x="496.0" y="290.2">W14(16S)</text>
<text x="478.0" y="312.1">68</text>
<text x="501.2" y="310.2">53</text>
<text x="496.9" y="324.1">69</text>
<text x="517.8" y="343.8">55</text>
<text x="523.0" y="357.1">W8</text>
<text x="535.3" y="376.6">56S</text>
<text x="543.3" y="399.5">14(W13)</text>
<text x="546.3" y="413.0">13B</text>
<text x="550.5" y="424.2">49S</text>
<text x="535.3" y="429.0">44S</text>
<text x="545.1" y="439.6">12B</text>
<text x="559.6" y="439.6">46S</text>
<text x="546.2" y="456.9">W9</text>
<text x="552.7" y="456.9">10A</text>
<text x="522.4" y="461.0">57B</text>
<text x="545.2" y="474.8">20S</text>
<text x="556.7" y="477.9">W10</text>
<text x="531.2" y="483.8">37S</text>
<text x="545.2" y="488.8">65</text>
<text x="556.4" y="488.8">W11</text>
<text x="517.4" y="491.8">36S</text>
<text x="527.8" y="505.9">6B</text>
<text x="516.1" y="505.9">60B</text>
<text x="563.2" y="502.7">7</text>
<text x="539.4" y="515.0">60C</text>
<text x="525.2" y="520.5">W12</text>
<text x="525.2" y="531.0">2</text>
<text x="536.2" y="530.6">3B</text>
<text x="544.0" y="527.4">3C</text>
</g>

</g>
</svg>
</body></html>
